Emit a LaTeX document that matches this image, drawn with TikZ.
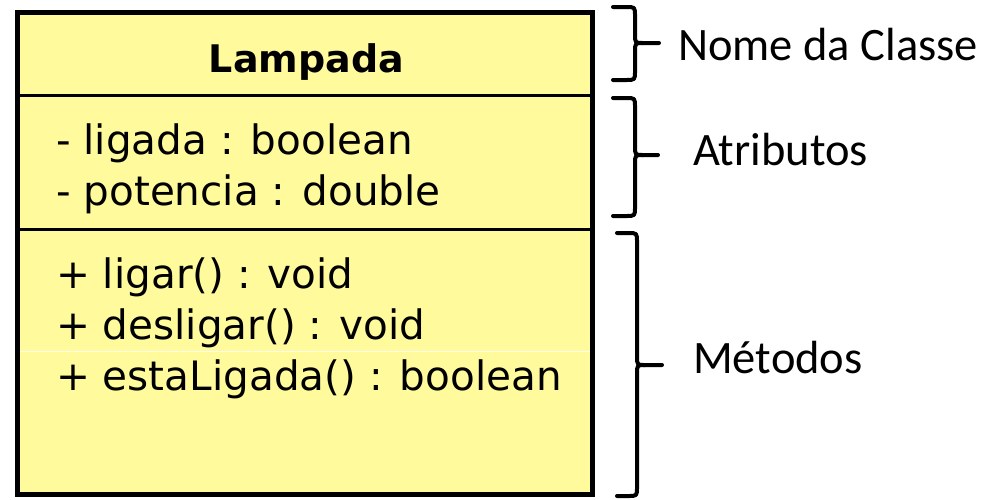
\documentclass[tikz,border=0pt]{standalone}
\usepackage{fontspec}
\setmainfont{DejaVu Sans}
\newfontfamily\labelfont{Carlito}
\definecolor{classfill}{RGB}{255,250,155}

% curly brace: #1 arm x, #2 bar x, #3 tip x, #4 top y, #5 middle y, #6 bottom y
\newcommand\sectionbrace[6]{%
  \draw[bracepath] (#1,#4) -- (#2-9,#4) .. controls (#2,#4) .. (#2,#4+9)
    -- (#2,#5-9) .. controls (#2,#5) .. (#2+8,#5) -- (#3,#5);
  \draw[bracepath] (#1,#6) -- (#2-9,#6) .. controls (#2,#6) .. (#2,#6-9)
    -- (#2,#5+9) .. controls (#2,#5) .. (#2+8,#5);
}

\begin{document}
\begin{tikzpicture}[x=1pt,y=-1pt,
  member/.style={anchor=base west, inner sep=0pt, font=\fontsize{40.5}{48}\selectfont},
  classname/.style={anchor=base, inner sep=0pt, font=\fontsize{38}{46}\selectfont\bfseries},
  caption/.style={anchor=base west, inner sep=0pt, font=\labelfont\fontsize{46.5}{55}\selectfont},
  bracepath/.style={line width=4pt, line cap=round, line join=round}]

\useasboundingbox (0,0) rectangle (992,499);
\fill[white] (0,0) rectangle (992,499);

% class box with its three compartments
\fill[classfill] (17.5,12.5) rectangle (592.5,494.5);
\draw[white, line width=0.7pt, opacity=0.8] (20,351) -- (590,351);
\draw[line width=3pt] (17.5,95) -- (592.5,95);
\draw[line width=3pt] (17.5,229.5) -- (592.5,229.5);
\draw[line width=5pt] (17.5,12.5) rectangle (592.5,494.5);

% class name
\node[classname] (name) at (306.5,72) {Lampada};

% attributes
\node[member] (attr1) at (56,154) {- ligada : boolean};
\node[member] (attr2) at (56,205) {- potencia : double};

% operations
\node[member] (op1) at (56,288) {+ ligar() : void};
\node[member] (op2) at (56,339) {+ desligar() : void};
\node[member] (op3) at (56,390) {+ estaLigada() : boolean};

% braces marking each compartment
\sectionbrace{613}{635}{659}{7}{43}{80}
\sectionbrace{613}{635}{658}{98}{155}{216}
\sectionbrace{617}{637}{662}{233}{365}{496}

% compartment captions
\node[caption] (capname) at (678,60) {Nome da Classe};
\node[caption] (capattr) at (693,165) {Atributos};
\node[caption] (capops) at (693,373) {Métodos};
\end{tikzpicture}
\end{document}
